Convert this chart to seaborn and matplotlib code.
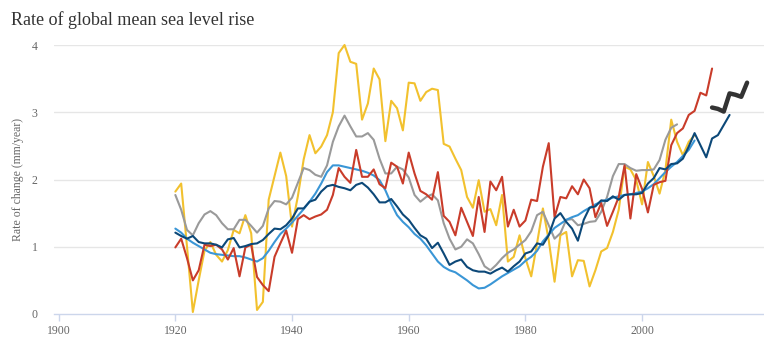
import numpy as np
import pandas as pd
import matplotlib
matplotlib.use("Agg")
import matplotlib.pyplot as plt
import seaborn as sns

# ---- data ----
years_yellow = list(range(1920, 2010))
yellow = [1.82, 1.94, 1.00, 0.03, 0.50, 0.94, 1.07, 0.88, 0.78, 0.95,
          1.25, 1.20, 1.47, 1.20, 0.06, 0.18, 1.70, 2.05, 2.40, 2.05,
          1.30, 1.75, 2.30, 2.66, 2.39, 2.49, 2.66, 3.00, 3.88, 4.00,
          3.75, 3.72, 2.89, 3.13, 3.65, 3.49, 2.57, 3.17, 3.06, 2.73,
          3.44, 3.43, 3.17, 3.30, 3.35, 3.33, 2.53, 2.49, 2.31, 2.14,
          1.74, 1.58, 1.99, 1.52, 1.56, 1.32, 1.77, 0.78, 0.85, 1.17,
          0.83, 0.56, 1.05, 1.57, 1.10, 0.48, 1.17, 1.22, 0.56, 0.80,
          0.79, 0.41, 0.65, 0.93, 0.98, 1.22, 1.55, 2.19, 2.15, 1.99,
          1.63, 2.26, 2.05, 1.79, 2.14, 2.89, 2.56, 2.36, 2.56, 2.66]

years_gray = list(range(1920, 2007))
gray = [1.77, 1.55, 1.25, 1.17, 1.35, 1.48, 1.53, 1.47, 1.35, 1.26,
        1.26, 1.40, 1.40, 1.31, 1.21, 1.31, 1.57, 1.68, 1.67, 1.63,
        1.73, 1.95, 2.17, 2.14, 2.07, 2.04, 2.21, 2.56, 2.79, 2.95,
        2.79, 2.64, 2.64, 2.69, 2.59, 2.31, 2.09, 2.09, 2.19, 2.15,
        2.03, 1.77, 1.67, 1.74, 1.78, 1.69, 1.35, 1.12, 0.96, 1.00,
        1.11, 1.05, 0.89, 0.71, 0.65, 0.73, 0.83, 0.91, 0.96, 1.03,
        1.10, 1.23, 1.47, 1.52, 1.32, 1.12, 1.20, 1.40, 1.41, 1.32,
        1.34, 1.37, 1.38, 1.52, 1.74, 2.05, 2.23, 2.23, 2.17, 2.13,
        2.14, 2.14, 2.15, 2.29, 2.59, 2.77, 2.82]

years_red = list(range(1920, 2013))
red = [0.99, 1.12, 0.83, 0.50, 0.65, 1.03, 1.01, 1.03, 0.96, 0.81,
       0.98, 0.56, 0.99, 1.03, 0.55, 0.43, 0.34, 0.85, 1.05, 1.24,
       0.91, 1.41, 1.47, 1.41, 1.45, 1.48, 1.55, 1.77, 2.17, 2.04,
       1.95, 2.44, 2.04, 2.04, 2.15, 1.93, 1.87, 2.25, 2.19, 1.94,
       2.40, 2.09, 1.83, 1.78, 1.70, 2.11, 1.46, 1.37, 1.17, 1.58,
       1.37, 1.16, 1.74, 1.22, 1.97, 1.84, 2.04, 1.30, 1.55, 1.30,
       1.39, 1.70, 1.68, 2.19, 2.54, 1.44, 1.74, 1.72, 1.90, 1.78,
       2.00, 1.87, 1.44, 1.65, 1.31, 1.52, 1.74, 2.21, 1.42, 2.08,
       1.86, 1.51, 1.92, 1.96, 1.98, 2.51, 2.69, 2.76, 2.96, 3.02,
       3.29, 3.25, 3.65]

years_navy = list(range(1920, 2016))
navy = [1.21, 1.16, 1.12, 1.16, 1.07, 1.05, 1.05, 1.03, 0.99, 1.11,
        1.13, 0.99, 1.01, 1.04, 1.05, 1.10, 1.19, 1.27, 1.26, 1.32,
        1.42, 1.57, 1.57, 1.67, 1.70, 1.82, 1.90, 1.92, 1.89, 1.87,
        1.84, 1.92, 1.95, 1.88, 1.78, 1.66, 1.66, 1.71, 1.60, 1.48,
        1.40, 1.28, 1.17, 1.12, 0.98, 1.06, 0.90, 0.73, 0.78, 0.81,
        0.70, 0.65, 0.63, 0.63, 0.60, 0.65, 0.69, 0.63, 0.71, 0.78,
        0.90, 0.93, 1.05, 1.03, 1.17, 1.42, 1.50, 1.37, 1.27, 1.09,
        1.40, 1.58, 1.60, 1.69, 1.68, 1.75, 1.70, 1.77, 1.78, 1.78,
        1.80, 1.94, 2.02, 2.17, 2.15, 2.23, 2.24, 2.31, 2.49, 2.69,
        2.51, 2.33, 2.61, 2.66, 2.81, 2.96]

years_light = list(range(1920, 2010))
light = [1.27, 1.21, 1.12, 1.06, 1.01, 0.96, 0.91, 0.89, 0.88, 0.87,
         0.86, 0.86, 0.84, 0.81, 0.78, 0.83, 0.94, 1.07, 1.19, 1.27,
         1.36, 1.46, 1.56, 1.67, 1.79, 1.94, 2.11, 2.21, 2.21, 2.19,
         2.17, 2.15, 2.13, 2.10, 2.06, 1.99, 1.84, 1.64, 1.47, 1.37,
         1.29, 1.19, 1.12, 1.02, 0.90, 0.78, 0.70, 0.65, 0.62, 0.56,
         0.50, 0.43, 0.38, 0.39, 0.44, 0.50, 0.56, 0.61, 0.66, 0.71,
         0.79, 0.85, 0.94, 1.08, 1.18, 1.28, 1.34, 1.40, 1.44, 1.47,
         1.53, 1.58, 1.63, 1.67, 1.70, 1.73, 1.75, 1.77, 1.78, 1.80,
         1.82, 1.87, 1.93, 2.02, 2.11, 2.19, 2.26, 2.35, 2.44, 2.58]

years_black = list(range(2012, 2019))
black = [3.07, 3.05, 3.01, 3.28, 3.26, 3.23, 3.44]

x_ticks = [1900, 1920, 1940, 1960, 1980, 2000]
y_ticks = [0, 1, 2, 3, 4]

# ---- long table ----
parts = []
for name, yrs, vals in [("yellow", years_yellow, yellow), ("gray", years_gray, gray),
                        ("light", years_light, light), ("red", years_red, red),
                        ("navy", years_navy, navy)]:
    parts.append(pd.DataFrame({"year": yrs, "value": vals, "series": name}))
df = pd.concat(parts, ignore_index=True)
df_black = pd.DataFrame({"year": years_black, "value": black})

palette = {"yellow": "#f2c12e", "gray": "#9a9a9a", "light": "#3a96d6",
           "red": "#c93c2a", "navy": "#0c4878"}

sns.set_theme(style="white")
plt.rcParams["font.family"] = ["Liberation Serif", "DejaVu Serif"]

fig = plt.figure(figsize=(7.64, 3.5), dpi=100)
ax = fig.add_axes([54 / 764, 1 - 314 / 350, (764 - 54) / 764, (314 - 45) / 350])

sns.lineplot(data=df, x="year", y="value", hue="series",
             hue_order=["yellow", "gray", "light", "red", "navy"],
             palette=palette, linewidth=1.5, legend=False, errorbar=None,
             ax=ax, clip_on=False)
sns.lineplot(data=df_black, x="year", y="value", color="#333333",
             linewidth=3.2, errorbar=None, ax=ax, clip_on=False)

ax.set_xlim(1899.2, 2020.9)
ax.set_ylim(0, 4)
ax.set_xticks(x_ticks)
ax.set_yticks(y_ticks)
ax.set_xticklabels([str(t) for t in x_ticks])
ax.set_yticklabels([str(t) for t in y_ticks])

for yv in y_ticks[1:]:
    ax.axhline(yv, color="#e6e6e6", linewidth=1, zorder=0)

for s in ["top", "right", "left"]:
    ax.spines[s].set_visible(False)
ax.spines["bottom"].set_color("#ccd6eb")
ax.spines["bottom"].set_linewidth(1)

ax.tick_params(axis="x", colors="#ccd6eb", length=5, width=1, direction="out",
               labelcolor="#666666", labelsize=8.5, pad=3, bottom=True)
ax.tick_params(axis="y", length=0, labelcolor="#666666", labelsize=8.5, pad=12)

ax.set_xlabel("")
ax.set_ylabel("Rate of change (mm/year)", color="#666666", fontsize=8.5)
ax.yaxis.set_label_coords((24 - 54) / (764 - 54), 0.5)

fig.text(11 / 764, 1 - 25 / 350, "Rate of global mean sea level rise",
         fontsize=13, color="#333333", va="baseline", ha="left")

fig.savefig("out.png", dpi=100)
